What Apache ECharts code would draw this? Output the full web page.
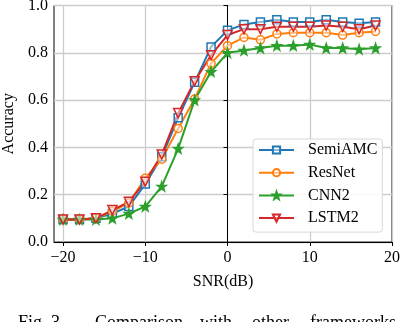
<!DOCTYPE html>
<html><head><meta charset="utf-8">
<script src="https://cdn.jsdelivr.net/npm/echarts@6/dist/echarts.min.js"></script>
<style>html,body{margin:0;padding:0;background:#fff;}#c{width:400px;height:322px;}</style>
</head><body><div id="c"></div>
<script>
const snr = [-20,-18,-16,-14,-12,-10,-8,-6,-4,-2,0,2,4,6,8,10,12,14,16,18];
const semiAMC = [0.095,0.095,0.10,0.12,0.15,0.245,0.36,0.525,0.675,0.825,0.895,0.92,0.93,0.94,0.93,0.93,0.94,0.93,0.925,0.93];
const resNet = [0.095,0.095,0.10,0.13,0.165,0.27,0.35,0.48,0.605,0.755,0.83,0.865,0.855,0.88,0.885,0.885,0.885,0.875,0.885,0.89];
const cnn2 = [0.095,0.095,0.095,0.10,0.12,0.15,0.235,0.395,0.60,0.72,0.80,0.81,0.82,0.83,0.83,0.835,0.82,0.82,0.815,0.82];
const lstm2 = [0.095,0.095,0.10,0.135,0.17,0.255,0.37,0.545,0.68,0.79,0.875,0.90,0.90,0.91,0.91,0.91,0.915,0.91,0.90,0.915];
const xTicks = [-20,-10,0,10,20];
const seriesNames = ['SemiAMC','ResNet','CNN2','LSTM2'];
const xLabel = 'SNR(dB)';
const yLabel = 'Accuracy';
const captionWords = ['Fig. 3.','Comparison','with','other','frameworks'];

const FONT = '"Liberation Serif", "DejaVu Serif", serif';
const colors = ['#1f77b4','#ff7f0e','#2ca02c','#d62728'];
const star = 'path://M0,-10 L2.35,-3.24 L9.51,-3.09 L3.8,1.24 L5.88,8.09 L0,4 L-5.88,8.09 L-3.8,1.24 L-9.51,-3.09 L-2.35,-3.24 Z';
const pair = arr => snr.map((x,i)=>[x,arr[i]]);
function mk(name, data, color, symbol, size, filled, rot){
  return {
    name, type:'line', data:pair(data), symbol, symbolSize:size, symbolRotate:rot||0,
    lineStyle:{color, width:2}, z:3,
    itemStyle:{color: filled?color:'rgba(255,255,255,0.5)', borderColor:color, borderWidth:1.5},
    emphasis:{disabled:true}, animation:false
  };
}
const capX = [18, 95, 200, 252, 310];
const capFont = '18px ' + FONT.replace(/"/g,"'");
const chart = echarts.init(document.getElementById('c'), null, {renderer:'canvas'});
chart.setOption({
  animation:false,
  color:colors,
  grid:{left:54, right:8, top:5.5, bottom:80, containLabel:false, outerBoundsMode:'none',
    show:true, borderColor:'#000', borderWidth:1, backgroundColor:'transparent'},
  xAxis:{
    type:'value', min:-21.1, max:20,
    name:xLabel, nameLocation:'middle', nameGap:32,
    nameTextStyle:{fontFamily:FONT, fontSize:16, color:'#000'},
    axisLine:{show:true, onZero:false, lineStyle:{color:'#000', width:1}},
    axisTick:{show:true, length:4, customValues:xTicks, lineStyle:{color:'#000'}},
    axisLabel:{customValues:xTicks, margin:8, fontFamily:FONT, fontSize:16, color:'#000',
      formatter:v=>String(v).replace('-','\u2212')},
    splitLine:{show:true, lineStyle:{color:'#cccccc', width:1.3}}
  },
  yAxis:{
    type:'value', min:0, max:1, interval:0.2,
    name:yLabel, nameLocation:'middle', nameGap:34,
    nameTextStyle:{fontFamily:FONT, fontSize:16, color:'#000'},
    axisLine:{show:true, lineStyle:{color:'#000', width:1}},
    axisTick:{show:true, length:4, lineStyle:{color:'#000'}},
    axisLabel:{margin:6, fontFamily:FONT, fontSize:16, color:'#000', formatter:v=>v.toFixed(1)},
    splitLine:{show:true, lineStyle:{color:'#cccccc', width:1.3}}
  },
  legend:{
    orient:'vertical', left:253, top:139,
    data:seriesNames,
    itemWidth:35, itemHeight:9, itemGap:6.7,
    padding:[3,5,6,5],
    backgroundColor:'rgba(255,255,255,0.85)', borderColor:'#d8d8d8', borderWidth:1, borderRadius:3,
    textStyle:{fontFamily:FONT, fontSize:16, color:'#000', width:70, padding:[0,0,0,9]}
  },
  graphic: captionWords.map((w,i)=>({type:'text', left:capX[i], top:314, style:{text:w, font:capFont, fill:'#000'}})),
  series:[
    mk(seriesNames[0], semiAMC, colors[0], 'rect', 8, false),
    mk(seriesNames[1], resNet, colors[1], 'circle', 8, false),
    mk(seriesNames[2], cnn2, colors[2], star, 9, true),
    mk(seriesNames[3], lstm2, colors[3], 'triangle', 9, false, 180)
  ]
});
</script></body></html>
